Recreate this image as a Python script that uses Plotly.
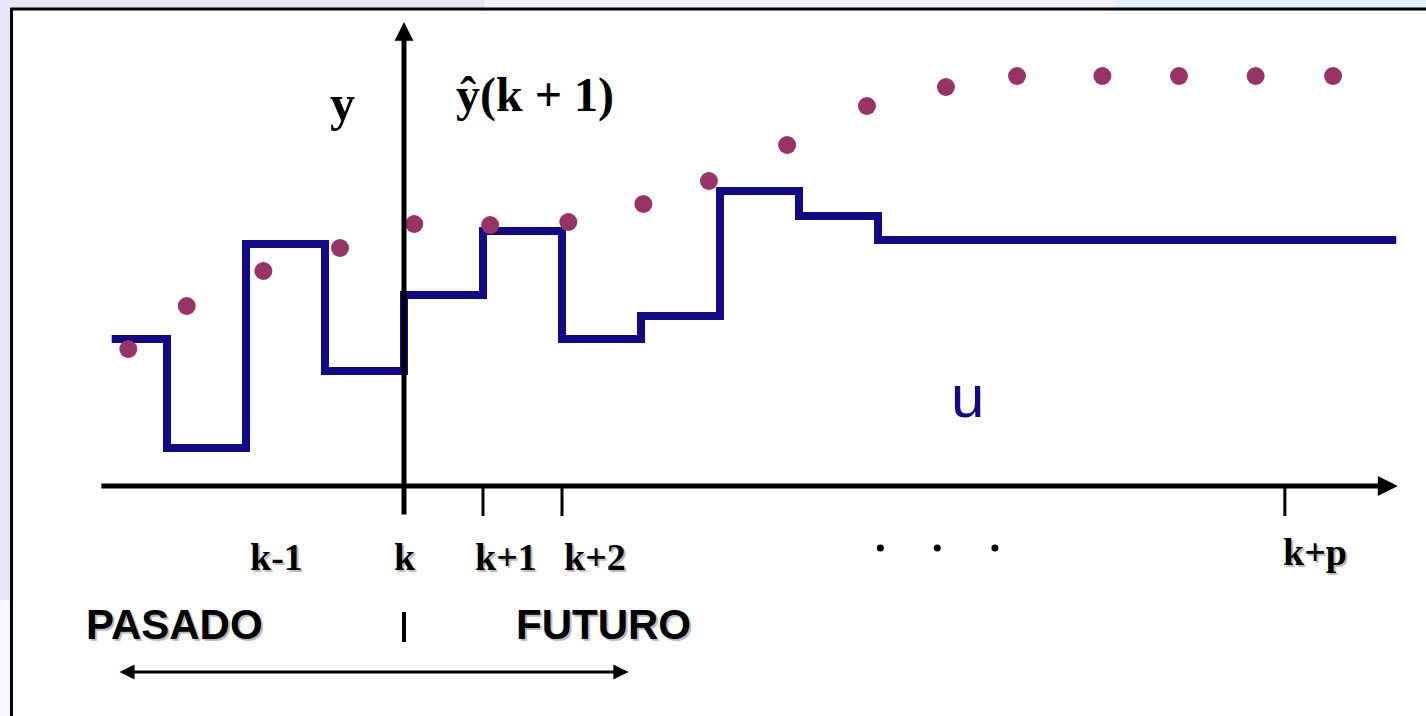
import plotly.graph_objects as go

# Time in sample periods relative to the present instant k
u_t = [-3.7, -3, -2, -1, 0, 1, 2, 3, 4, 5, 6, 12.56]
u_v = [1.47, 0.38, 2.42, 1.15, 1.91, 2.55, 1.47, 1.70, 2.95, 2.70, 2.46, 2.46]

# Output samples (past measurements and predicted values)
y_t = [-3.49, -2.75, -1.78, -0.81, 0.13, 1.09, 2.08, 3.03, 3.86, 4.85,
       5.86, 6.86, 7.76, 8.84, 9.81, 10.78, 11.76]
y_v = [1.37, 1.80, 2.15, 2.38, 2.62, 2.61, 2.64, 2.82, 3.05, 3.41,
       3.80, 3.99, 4.10, 4.10, 4.10, 4.10, 4.10]

# Time axis ticks and their labels
tick_t = [1, 2, 11.15]
tick_labels = ["k-1", "k", "k+1", "k+2", "k+p"]
label_t = [-1.62, 0.01, 1.29, 2.42, 11.53]
label_v = [-0.71, -0.71, -0.71, -0.71, -0.66]

ellipsis_t = [6.03, 6.75, 7.48]

BLUE = "#140A87"
PLUM = "#993366"
SERIF = "Liberation Serif, Times New Roman, serif"
SANS = "Liberation Sans, Arial, sans-serif"
SHADOW = "2px 2px 1px #b8b8b8"

fig = go.Figure()

fig.add_trace(go.Scatter(
    x=u_t, y=u_v, mode="lines", line=dict(color=BLUE, width=8, shape="hv"),
    hoverinfo="skip", showlegend=False))

fig.add_trace(go.Scatter(
    x=y_t, y=y_v, mode="markers",
    marker=dict(color=PLUM, size=18, line=dict(width=0)),
    hoverinfo="skip", showlegend=False))

fig.add_trace(go.Scatter(
    x=ellipsis_t, y=[-0.62] * len(ellipsis_t), mode="markers",
    marker=dict(color="black", size=7), hoverinfo="skip", showlegend=False))

shapes = []
# tick marks below the time axis
for t in tick_t:
    shapes.append(dict(type="line", xref="x", yref="y", x0=t, x1=t, y0=0, y1=-0.30,
                       line=dict(color="black", width=3)))
# present-instant marker between PASADO and FUTURO
shapes.append(dict(type="line", xref="x", yref="y", x0=0, x1=0, y0=-1.26, y1=-1.56,
                   line=dict(color="black", width=4)))

# background strips and frame
shapes += [
    dict(type="rect", xref="paper", yref="paper", x0=0, x1=0.34, y0=1 - 8 / 716, y1=1,
         fillcolor="#e6e6f5", line=dict(width=0), layer="below"),
    dict(type="rect", xref="paper", yref="paper", x0=0.34, x1=0.78, y0=1 - 8 / 716, y1=1,
         fillcolor="#f3f4fb", line=dict(width=0), layer="below"),
    dict(type="rect", xref="paper", yref="paper", x0=0.78, x1=1, y0=1 - 8 / 716, y1=1,
         fillcolor="#e3f1fa", line=dict(width=0), layer="below"),
    dict(type="rect", xref="paper", yref="paper", x0=0, x1=10 / 1426, y0=1 - 600 / 716, y1=1,
         fillcolor="#e6e6f6", line=dict(width=0), layer="below"),
    dict(type="rect", xref="paper", yref="paper", x0=0, x1=10 / 1426, y0=0, y1=1 - 600 / 716,
         fillcolor="#f6f6fc", line=dict(width=0), layer="below"),
    dict(type="line", xref="paper", yref="paper", x0=10.5 / 1426, x1=1, y0=1 - 9 / 716,
         y1=1 - 9 / 716, line=dict(color="black", width=3)),
    dict(type="line", xref="paper", yref="paper", x0=11.5 / 1426, x1=11.5 / 1426, y0=0,
         y1=1 - 8 / 716, line=dict(color="black", width=3)),
]

annotations = []
# time axis (horizontal arrow)
annotations.append(dict(x=12.58, y=0, ax=-3.85, ay=0, xref="x", yref="y", axref="x",
                        ayref="y", text="", showarrow=True, arrowhead=2, arrowsize=0.8,
                        arrowwidth=5, arrowcolor="black"))
# output axis (vertical arrow)
annotations.append(dict(x=0, y=4.64, ax=0, ay=-0.30, xref="x", yref="y", axref="x",
                        ayref="y", text="", showarrow=True, arrowhead=2, arrowsize=0.75,
                        arrowwidth=5, arrowcolor="black"))
# past/future double arrow
annotations.append(dict(x=2.84, y=-1.86, ax=-3.62, ay=-1.86, xref="x", yref="y",
                        axref="x", ayref="y", text="", showarrow=True, arrowhead=2,
                        startarrowhead=2, arrowside="end+start", arrowsize=1,
                        startarrowsize=1, arrowwidth=3, arrowcolor="black"))

for txt, t, v in zip(tick_labels, label_t, label_v):
    annotations.append(dict(x=t, y=v, xref="x", yref="y", text=f"<b>{txt}</b>",
                            showarrow=False,
                            font=dict(family=SERIF, size=38, color="black", shadow=SHADOW)))

annotations += [
    dict(x=-0.78, y=3.83, xref="x", yref="y", text="<b>y</b>", showarrow=False,
         font=dict(family=SERIF, size=50, color="black")),
    dict(x=1.66, y=3.91, xref="x", yref="y", text="<b>ŷ(k + 1)</b>", showarrow=False,
         font=dict(family=SERIF, size=48, color="black")),
    dict(x=7.13, y=0.90, xref="x", yref="y", text="u", showarrow=False,
         font=dict(family=SANS, size=60, color=BLUE)),
    dict(x=-2.91, y=-1.38, xref="x", yref="y", text="<b>PASADO</b>", showarrow=False,
         font=dict(family=SANS, size=42, color="black", shadow=SHADOW)),
    dict(x=2.53, y=-1.38, xref="x", yref="y", text="<b>FUTURO</b>", showarrow=False,
         font=dict(family=SANS, size=42, color="black", shadow=SHADOW)),
]

fig.update_layout(
    width=1426, height=716,
    margin=dict(l=0, r=0, t=0, b=0),
    paper_bgcolor="white", plot_bgcolor="white",
    xaxis=dict(range=[-404 / 79, (1426 - 404) / 79], visible=False, fixedrange=True),
    yaxis=dict(range=[-2.30, 4.86], visible=False, fixedrange=True),
    shapes=shapes, annotations=annotations,
    showlegend=False,
)

fig.write_html("out.html")
